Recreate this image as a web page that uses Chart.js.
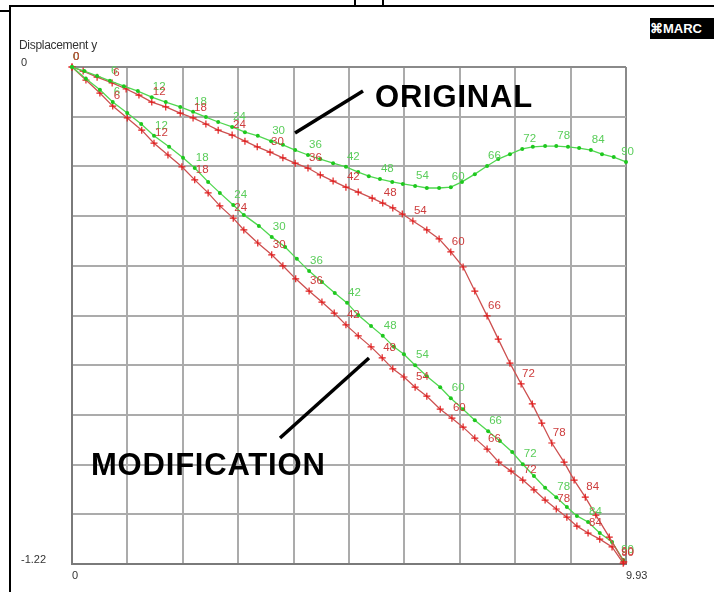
<!DOCTYPE html>
<html>
<head>
<meta charset="utf-8">
<script src="https://cdn.jsdelivr.net/npm/chart.js@4.4.0/dist/chart.umd.min.js"></script>
<style>
html, body { margin: 0; padding: 0; background: #fff; }
#wrap { position: relative; width: 714px; height: 592px; overflow: hidden; font-family: "Liberation Sans", Arial, sans-serif; }
#chart { position: absolute; left: 0; top: 0; }
.bar { position: absolute; background: #000; }
.note { position: absolute; font-weight: bold; font-size: 31px; line-height: 31px; letter-spacing: 0.8px; color: #000; white-space: nowrap; }
#ytitle { position: absolute; left: 19px; top: 38px; font-size: 12px; color: #333; letter-spacing: -0.3px; }
#logo { position: absolute; left: 650px; top: 18px; width: 70px; height: 21px; background: #000; color: #fff; font-weight: bold; font-size: 13px; line-height: 21px; white-space: nowrap; }
#arrows { position: absolute; left: 0; top: 0; }
</style>
</head>
<body>
<div id="wrap">
  <canvas id="chart" width="714" height="592"></canvas>
  <div class="bar" style="left:9px;top:5px;width:705px;height:2px"></div>
  <div class="bar" style="left:9px;top:5px;width:2px;height:587px"></div>
  <div class="bar" style="left:0;top:10px;width:9px;height:2px"></div>
  <div class="bar" style="left:354px;top:0;width:2px;height:6px"></div>
  <div class="bar" style="left:382px;top:0;width:2px;height:6px"></div>
  <div id="ytitle">Displacement y</div>
  <div id="logo">&#8984;MARC</div>
  <div class="note" style="left:375px;top:81px">ORIGINAL</div>
  <div class="note" style="left:91px;top:449px">MODIFICATION</div>
  <svg id="arrows" width="714" height="592">
    <line x1="295" y1="133" x2="363" y2="91" stroke="#000" stroke-width="3.5"/>
    <line x1="280" y1="438" x2="369" y2="358" stroke="#000" stroke-width="3.5"/>
  </svg>
</div>
<script>
// increment numbers of the plotted points (every 2nd increment)
const increments = [0,2,4,6,8,10,12,14,16,18,20,22,24,26,28,30,32,34,36,38,40,42,44,46,48,50,52,54,56,58,60,62,64,66,68,70,72,74,76,78,80,82,84,86,88,90];

// axis range and tick labels
const xMax = 9.93;
const yMin = -1.22;
const xTickLabels = ['0', '9.93'];
const yTickLabels = ['-1.22', '0'];

// ORIGINAL - green
const origGreenX = [0,0.22,0.45,0.68,0.93,1.18,1.43,1.68,1.94,2.17,2.40,2.62,2.87,3.10,3.33,3.57,3.78,4.00,4.23,4.45,4.68,4.91,5.13,5.32,5.52,5.74,5.93,6.15,6.36,6.58,6.79,6.99,7.22,7.44,7.64,7.85,8.07,8.26,8.48,8.68,8.89,9.09,9.30,9.50,9.71,9.93];
const origGreenY = [0,-0.010,-0.022,-0.034,-0.047,-0.059,-0.074,-0.086,-0.098,-0.110,-0.123,-0.135,-0.147,-0.160,-0.169,-0.182,-0.191,-0.204,-0.216,-0.226,-0.236,-0.245,-0.258,-0.268,-0.275,-0.282,-0.287,-0.292,-0.297,-0.297,-0.295,-0.282,-0.263,-0.243,-0.226,-0.214,-0.201,-0.196,-0.194,-0.194,-0.196,-0.199,-0.204,-0.214,-0.221,-0.233];

// ORIGINAL - red
const origRedX = [0,0.20,0.45,0.72,0.97,1.20,1.43,1.68,1.94,2.17,2.40,2.62,2.87,3.10,3.32,3.55,3.78,4.00,4.23,4.45,4.68,4.91,5.13,5.38,5.57,5.75,5.92,6.11,6.36,6.58,6.79,7.01,7.22,7.44,7.64,7.85,8.05,8.25,8.42,8.60,8.82,9.00,9.20,9.39,9.63,9.89];
const origRedY = [0,-0.010,-0.025,-0.039,-0.054,-0.069,-0.086,-0.098,-0.113,-0.125,-0.140,-0.155,-0.167,-0.182,-0.196,-0.209,-0.223,-0.236,-0.248,-0.265,-0.280,-0.295,-0.307,-0.322,-0.334,-0.346,-0.361,-0.378,-0.400,-0.422,-0.454,-0.491,-0.550,-0.611,-0.668,-0.727,-0.778,-0.827,-0.874,-0.923,-0.970,-1.014,-1.056,-1.100,-1.154,-1.215];

// MODIFICATION - green
const modGreenX = [0,0.25,0.50,0.73,0.99,1.24,1.47,1.74,1.99,2.20,2.44,2.65,2.89,3.08,3.35,3.58,3.82,4.03,4.25,4.48,4.71,4.93,5.13,5.36,5.57,5.77,5.95,6.15,6.36,6.60,6.79,7.01,7.22,7.46,7.67,7.89,8.08,8.28,8.48,8.68,8.87,9.05,9.25,9.46,9.68,9.88];
const modGreenY = [0,-0.029,-0.056,-0.086,-0.113,-0.140,-0.169,-0.196,-0.223,-0.248,-0.282,-0.309,-0.339,-0.363,-0.390,-0.417,-0.442,-0.471,-0.501,-0.528,-0.555,-0.579,-0.609,-0.636,-0.660,-0.687,-0.705,-0.732,-0.759,-0.786,-0.813,-0.840,-0.867,-0.894,-0.918,-0.945,-0.975,-1.004,-1.033,-1.056,-1.080,-1.102,-1.117,-1.144,-1.166,-1.210];

// MODIFICATION - red
const modRedX = [0,0.25,0.50,0.73,0.99,1.25,1.47,1.72,1.97,2.20,2.44,2.65,2.89,3.08,3.33,3.58,3.78,4.01,4.25,4.48,4.70,4.91,5.13,5.36,5.56,5.75,5.95,6.15,6.36,6.60,6.81,7.01,7.22,7.44,7.65,7.87,8.08,8.28,8.48,8.68,8.87,9.05,9.25,9.46,9.68,9.88];
const modRedY = [0,-0.032,-0.064,-0.096,-0.125,-0.155,-0.187,-0.216,-0.245,-0.277,-0.309,-0.341,-0.371,-0.400,-0.432,-0.461,-0.488,-0.520,-0.550,-0.577,-0.604,-0.633,-0.660,-0.687,-0.714,-0.741,-0.761,-0.786,-0.808,-0.840,-0.862,-0.884,-0.911,-0.938,-0.970,-0.992,-1.014,-1.038,-1.063,-1.085,-1.105,-1.127,-1.144,-1.159,-1.178,-1.218];

const FONT = '"Liberation Sans", Arial, sans-serif';

function pts(xs, ys) {
  return xs.map((x, i) => ({ x: x, y: ys[i] }));
}

function greenSet(xs, ys) {
  return {
    data: pts(xs, ys), showLine: true, tension: 0, clip: false,
    borderColor: 'rgb(80,215,80)', borderWidth: 1.3,
    pointStyle: 'circle', pointRadius: 2, pointBorderWidth: 0,
    pointBackgroundColor: 'rgb(30,200,30)',
    labelColor: 'rgb(90,205,90)'
  };
}

function redSet(xs, ys) {
  return {
    data: pts(xs, ys), showLine: true, tension: 0, clip: false,
    borderColor: 'rgb(205,80,80)', borderWidth: 1.3,
    pointStyle: 'cross', pointRadius: 3.5, pointBorderWidth: 1.2,
    pointBorderColor: 'rgb(225,30,30)',
    labelColor: 'rgb(205,60,60)'
  };
}

// increment numbers written next to every 6th increment
const pointLabels = {
  id: 'pointLabels',
  afterDatasetsDraw(chart) {
    const ctx = chart.ctx;
    const right = chart.chartArea.right + 8;
    ctx.save();
    ctx.font = '11.5px ' + FONT;
    ctx.textAlign = 'left';
    ctx.textBaseline = 'middle';
    chart.data.datasets.forEach((ds, i) => {
      ctx.fillStyle = ds.labelColor;
      chart.getDatasetMeta(i).data.forEach((p, j) => {
        const inc = increments[j];
        if (inc % 6 !== 0) return;
        const txt = String(inc);
        const w = ctx.measureText(txt).width;
        let x = p.x + 1;
        if (x + w > right) x = right - w;
        ctx.fillText(txt, x, p.y - 10);
      });
    });
    ctx.restore();
  }
};

const edgeGrid = c => (c.index === 0 || c.index === 10) ? '#8a8a8a' : '#ababab';

new Chart(document.getElementById('chart'), {
  type: 'scatter',
  data: {
    datasets: [
      greenSet(origGreenX, origGreenY),
      redSet(origRedX, origRedY),
      greenSet(modGreenX, modGreenY),
      redSet(modRedX, modRedY)
    ]
  },
  options: {
    responsive: false,
    animation: false,
    layout: { padding: { left: 21, top: 67, right: 88, bottom: 0 } },
    plugins: { legend: { display: false }, tooltip: { enabled: false } },
    scales: {
      x: {
        type: 'linear', min: 0, max: xMax,
        grid: { color: edgeGrid, lineWidth: 2, drawTicks: false },
        border: { color: '#7a7a7a', width: 2 },
        ticks: {
          stepSize: xMax / 10, autoSkip: false, maxRotation: 0, align: 'start', padding: 5,
          color: '#333', font: { size: 11, family: FONT },
          callback: (v, i, t) => i === 0 ? xTickLabels[0] : (i === t.length - 1 ? xTickLabels[1] : '')
        },
        afterFit(s) { s.height = 28; s.paddingLeft = 0; s.paddingRight = 0; }
      },
      y: {
        type: 'linear', min: yMin, max: 0,
        grid: { color: edgeGrid, lineWidth: 2, drawTicks: false },
        border: { color: '#7a7a7a', width: 2 },
        ticks: {
          stepSize: -yMin / 10, autoSkip: false, crossAlign: 'far', labelOffset: -4, padding: 0,
          color: '#333', font: { size: 11, family: FONT },
          callback: (v, i, t) => i === 0 ? yTickLabels[0] : (i === t.length - 1 ? yTickLabels[1] : '')
        },
        afterFit(s) { s.width = 51; s.paddingTop = 0; s.paddingBottom = 0; }
      }
    }
  },
  plugins: [pointLabels]
});
</script>
</body>
</html>
